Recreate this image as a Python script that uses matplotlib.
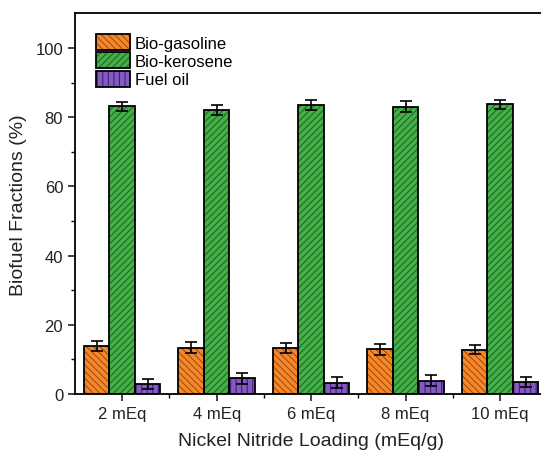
import numpy as np
import matplotlib
matplotlib.use("Agg")
from matplotlib import pyplot as plt

categories = ["2 mEq", "4 mEq", "6 mEq", "8 mEq", "10 mEq"]
gasoline = [13.8, 13.4, 13.3, 13.0, 12.8]
gasoline_err = [1.4, 1.5, 1.5, 1.6, 1.3]
kerosene = [83.2, 82.0, 83.5, 83.1, 83.7]
kerosene_err = [1.3, 1.4, 1.5, 1.5, 1.4]
fuel_oil = [2.9, 4.6, 3.3, 3.8, 3.5]
fuel_oil_err = [1.4, 1.6, 1.5, 1.6, 1.4]

plt.rcParams['font.family'] = ['Liberation Sans', 'DejaVu Sans']
plt.rcParams['hatch.linewidth'] = 0.8

fig = plt.figure(figsize=(5.41, 4.52), dpi=100)
ax = fig.add_axes([0.1386, 0.126, 0.873, 0.842])

x = np.arange(len(categories))
w = 0.27
series = [
    (gasoline, gasoline_err, "#F7882A", "#A04E10", "\\\\\\\\\\", "Bio-gasoline", -w),
    (kerosene, kerosene_err, "#45B04A", "#1E6B22", "/////", "Bio-kerosene", 0),
    (fuel_oil, fuel_oil_err, "#8459C2", "#3E2470", "|||", "Fuel oil", w),
]
handles = []
for vals, errs, col, hcol, hatch, name, off in series:
    ax.bar(x + off, vals, w, color=col, edgecolor=hcol, linewidth=0,
           hatch=hatch, zorder=2)
    ax.bar(x + off, vals, w, fill=False, edgecolor="black", linewidth=1.3,
           zorder=2.5)
    ax.errorbar(x + off, vals, yerr=errs, fmt="none", ecolor="black",
                elinewidth=1.2, capsize=4, capthick=1.2, zorder=3)
    handles.append((ax.bar([0], [0], 0, color=col, edgecolor=hcol, hatch=hatch,
                           linewidth=0),
                    ax.bar([0], [0], 0, fill=False, edgecolor="black",
                           linewidth=1.3)))

ax.set_xlim(-0.5, 4.5)
ax.set_ylim(0, 110)
ax.set_yticks(np.arange(0, 101, 20))
ax.set_yticks(np.arange(10, 101, 20), minor=True)
ax.set_xticks(x)
ax.set_xticklabels(categories)
ax.set_xticks(x[:-1] + 0.5, minor=True)
ax.tick_params(axis="both", which="major", direction="out", length=5,
               width=1.2, labelsize=12, colors="#222222")
ax.tick_params(axis="both", which="minor", direction="out", length=3, width=1.0)
for s in ax.spines.values():
    s.set_linewidth(1.3)

ax.set_xlabel("Nickel Nitride Loading (mEq/g)", fontsize=14, color="#222222",
              labelpad=8)
ax.set_ylabel("Biofuel Fractions (%)", fontsize=14, color="#222222", labelpad=6)

ax.legend(handles, [s[5] for s in series], loc="upper left", frameon=False,
          fontsize=12, handlelength=2.0, handleheight=1.1, labelspacing=0.1,
          handletextpad=0.3, borderaxespad=0.6, bbox_to_anchor=(0.01, 0.99))

fig.savefig("out.png", dpi=100)
